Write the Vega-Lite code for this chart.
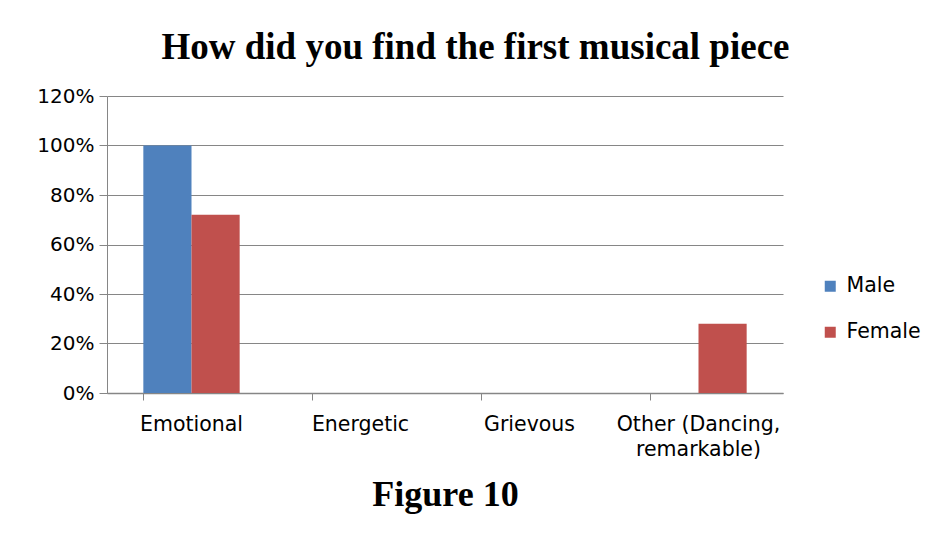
{
  "$schema": "https://vega.github.io/schema/vega-lite/v6.json",
  "autosize": "none",
  "width": 676,
  "height": 297,
  "padding": {"left": 107, "top": 96, "right": 155, "bottom": 155},
  "background": "white",
  "data": {
    "values": [
      {"category": "Emotional", "gender": "Male", "value": 1.0},
      {"category": "Emotional", "gender": "Female", "value": 0.72},
      {"category": "Energetic", "gender": "Male", "value": 0},
      {"category": "Energetic", "gender": "Female", "value": 0},
      {"category": "Grievous", "gender": "Male", "value": 0},
      {"category": "Grievous", "gender": "Female", "value": 0},
      {"category": "Other (Dancing, remarkable)", "gender": "Male", "value": 0},
      {"category": "Other (Dancing, remarkable)", "gender": "Female", "value": 0.28}
    ]
  },
  "config": {
    "view": {"stroke": null},
    "axis": {"labelFont": "DejaVu Sans", "labelFontSize": 20, "labelColor": "black", "domainColor": "#868686", "tickColor": "#868686", "gridColor": "#868686"},
    "legend": {"labelFont": "DejaVu Sans", "labelFontSize": 20.5, "labelColor": "black"}
  },
  "layer": [
    {
      "mark": {"type": "bar"},
      "encoding": {
        "x": {
          "field": "category", "type": "nominal", "sort": null,
          "scale": {"paddingInner": 0.43, "paddingOuter": 0.215},
          "axis": {
            "orient": "bottom",
            "ticks": false,
            "labelAngle": 0,
            "labelFontSize": 20.5,
            "labelPadding": 21,
            "labelLineHeight": 25,
            "labelExpr": "split(datum.label, ', ').length > 1 ? [split(datum.label, ' ')[0] + ' ' + split(datum.label, ' ')[1], split(datum.label, ' ')[2]] : datum.label",
            "title": "Figure 10",
            "titleFont": "Liberation Serif",
            "titleFontWeight": "bold",
            "titleFontSize": 36,
            "titleColor": "black",
            "titlePadding": 18,
            "domainWidth": 1.5
          }
        },
        "xOffset": {"field": "gender", "type": "nominal", "sort": ["Male", "Female"], "scale": {"paddingInner": 0, "paddingOuter": 0}},
        "y": {
          "field": "value", "type": "quantitative",
          "scale": {"domain": [0, 1.2], "nice": false},
          "axis": {
            "values": [0, 0.2, 0.4, 0.6, 0.8, 1.0, 1.2],
            "format": ".0%",
            "title": null,
            "tickSize": 8,
            "labelPadding": 5,
            "grid": true,
            "gridWidth": 1.2
          }
        },
        "color": {
          "field": "gender", "type": "nominal",
          "sort": ["Male", "Female"],
          "scale": {"domain": ["Male", "Female"], "range": ["#4F81BD", "#C0504D"]},
          "legend": {
            "title": null,
            "orient": "none",
            "legendX": 713,
            "legendY": 180,
            "symbolType": "square",
            "symbolSize": 121,
            "symbolStrokeWidth": 0,
            "rowPadding": 25,
            "labelOffset": 6
          }
        }
      }
    },
    {
      "mark": {"type": "bar", "opacity": 0},
      "encoding": {
        "x": {
          "field": "category", "type": "nominal", "sort": null,
          "axis": {
            "orient": "bottom",
            "bandPosition": 0,
            "labels": false,
            "domain": false,
            "tickSize": 7,
            "title": null
          }
        },
        "y": {"field": "value", "type": "quantitative"}
      }
    },
    {
      "mark": {"type": "bar", "opacity": 0},
      "encoding": {
        "x": {
          "field": "category", "type": "nominal", "sort": null,
          "axis": {
            "orient": "top",
            "labels": false,
            "ticks": false,
            "domain": false,
            "title": "How did you find the first musical piece",
            "titleFont": "Liberation Serif",
            "titleFontWeight": "bold",
            "titleFontSize": 37,
            "titleColor": "black",
            "titleBaseline": "bottom",
            "titlePadding": 30,
            "titleX": 368
          }
        },
        "y": {"field": "value", "type": "quantitative"}
      }
    }
  ],
  "resolve": {"axis": {"x": "independent"}}
}
